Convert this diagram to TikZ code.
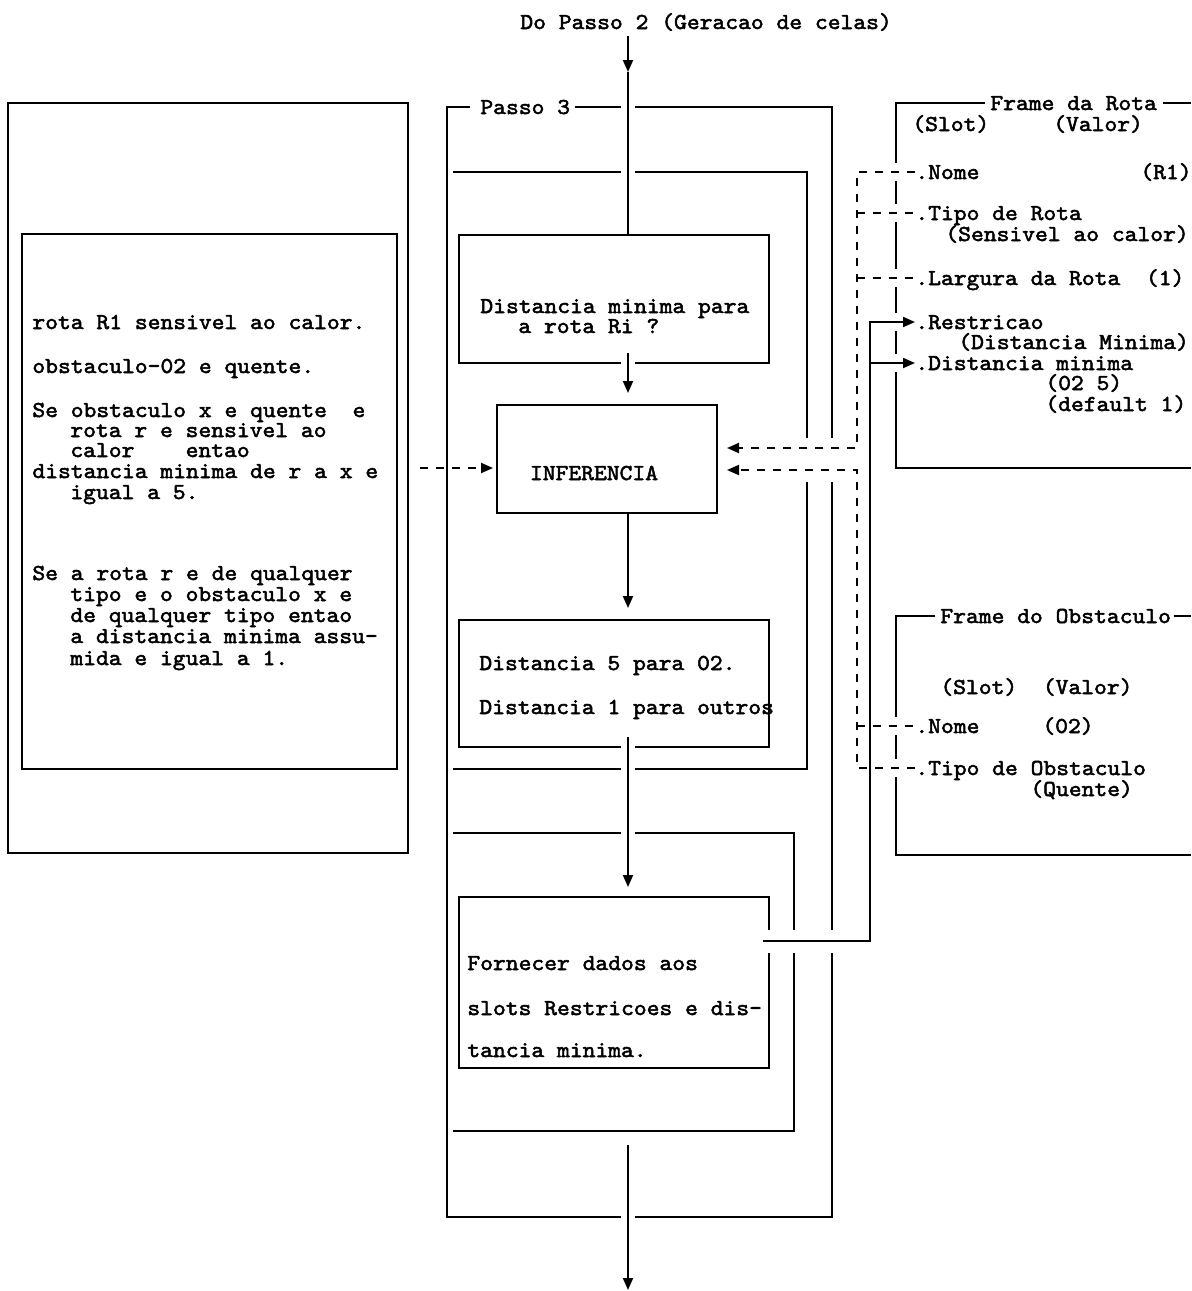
\documentclass[tikz,border=0pt]{standalone}
\usepackage{fontspec}
\newfontfamily\printfont{lmmono10-regular.otf}[FakeBold=2.2,FakeStretch=1.07]
\usetikzlibrary{arrows.meta,calc}
\newcommand\monofont{\fontsize{11.4}{13}\selectfont\printfont}
\newcommand\cutV[3]{\fill[white] (#1-4,#2) rectangle (#1+4,#3);}
\newcommand\cutH[3]{\fill[white] (#2,#1-4) rectangle (#3,#1+4);}
\begin{document}
\begin{tikzpicture}[x=0.5pt,y=-0.5pt,
 ln/.style={line width=1pt, draw=black},
 dsh/.style={line width=1pt, draw=black, dash pattern=on 4pt off 4pt},
 tip/.style={-{Triangle[length=6pt,width=5pt]}},
 boxn/.style={draw=black, line width=1pt, inner sep=0pt, outer sep=0pt, anchor=north west},
 txt/.style={font=\monofont, inner sep=0pt, anchor=base west},
]
\useasboundingbox (0,0) rectangle (1191,1291);
% ---------- boxes ----------
\node[boxn, minimum width=200pt, minimum height=375pt] (lOut) at (8,103) {};
\node[boxn, minimum width=187.5pt, minimum height=267.5pt] (lIn) at (22,234) {};
\node[boxn, minimum width=155pt, minimum height=64pt] (boxA) at (459,235) {};
\node[boxn, minimum width=110pt, minimum height=54pt] (inf) at (497,405) {};
\node[boxn, minimum width=155pt, minimum height=63.5pt] (boxB) at (459,620) {};
\node[boxn, minimum width=155pt, minimum height=85.5pt] (forn) at (459,897) {};
% Passo 3 frame and inner brackets
\draw[ln] (470,107) -- (447,107) -- (447,1217) -- (832,1217) -- (832,107) -- (575,107);
\draw[ln] (453,172) -- (807,172) -- (807,769) -- (453,769);
\draw[ln] (453,833) -- (794,833) -- (794,1131) -- (453,1131);
% right frames
\draw[ln] (985,103) -- (896,103) -- (896,468) -- (1191,468);
\draw[ln] (1163,103) -- (1191,103);
\draw[ln] (935,616) -- (896,616) -- (896,855) -- (1191,855);
\draw[ln] (1174,616) -- (1191,616);
% ---------- gaps where connectors cross ----------
\cutH{107}{621}{635}
\cutH{172}{621}{635}
\cutH{363}{621}{635}
\cutH{747}{621}{635}
\cutH{769}{621}{635}
\cutH{833}{621}{635}
\cutH{1217}{621}{635}
\cutV{807}{438}{482}
\cutV{832}{438}{482}
\cutV{769}{930}{953}
\cutV{794}{930}{953}
\cutV{832}{930}{953}
\cutV{896}{163}{181}
\cutV{896}{204}{222}
\cutV{896}{269}{287}
\cutV{896}{313}{331}
\cutV{896}{354}{372}
\cutV{896}{717}{735}
\cutV{896}{759}{777}
\cutV{870}{717}{735}
\cutV{870}{759}{777}
% ---------- texts ----------
\node[txt] (title) at (520,29) {Do Passo 2 (Geracao de celas)};
\node[txt] (passo) at (480,114) {Passo 3};
% left box
\node[txt] (lt1) at (32,329) {rota R1 sensivel ao calor.};
\node[txt] (lt2) at (32,373) {obstaculo-02 e quente.};
\node[txt] (lt3) at (32,417) {Se obstaculo x e quente\ \ e};
\node[txt] (lt4) at (70,437) {rota r e sensivel ao};
\node[txt] (lt5) at (70,457) {calor\ \ \ \ entao};
\node[txt] (lt6) at (32,478) {distancia minima de r a x e};
\node[txt] (lt7) at (70,499) {igual a 5.};
\node[txt] (lt8) at (32,580) {Se a rota r e de qualquer};
\node[txt] (lt9) at (70,601) {tipo e o obstaculo x e};
\node[txt] (lt10) at (70,622) {de qualquer tipo entao};
\node[txt] (lt11) at (70,643) {a distancia minima assu-};
\node[txt] (lt12) at (70,665) {mida e igual a 1.};
% centre
\node[txt] (a1) at (480,313) {Distancia minima para};
\node[txt] (a2) at (518,333) {a rota Ri ?};
\node[txt, anchor=base] (infT) at (594,480) {INFERENCIA};
\node[txt] (b1) at (479,670) {Distancia 5 para 02.};
\node[txt] (b2) at (479,714) {Distancia 1 para outros};
\node[txt] (f1) at (467,970) {Fornecer dados aos};
\node[txt] (f2) at (467,1015) {slots Restricoes e dis-};
\node[txt] (f3) at (467,1057) {tancia minima.};
% frame da rota
\node[txt] (fr) at (990,110) {Frame da Rota};
\node[txt] (rSlot) at (912,131) {(Slot)\ \ \ \ \ (Valor)};
\node[txt] (rNome) at (915,179) {.Nome};
\node[txt] (rR1) at (1140,179) {(R1)};
\node[txt] (rTipo) at (915,220) {.Tipo de Rota};
\node[txt] (rSens) at (945,241) {(Sensivel ao calor)};
\node[txt] (rLarg) at (915,285) {.Largura da Rota\ \ (1)};
\node[txt] (rRestr) at (915,329) {.Restricao};
\node[txt] (rDM) at (958,349) {(Distancia Minima)};
\node[txt] (rDist) at (915,370) {.Distancia minima};
\node[txt] (r025) at (1045,390) {(02 5)};
\node[txt] (rDef) at (1045,411) {(default 1)};
% frame do obstaculo
\node[txt] (fo) at (940,623) {Frame do Obstaculo};
\node[txt] (oSlot) at (940,694) {(Slot)\ \ (Valor)};
\node[txt] (oNome) at (915,733) {.Nome};
\node[txt] (o02) at (1042,733) {(02)};
\node[txt] (oTipo) at (915,775) {.Tipo de Obstaculo};
\node[txt] (oQ) at (1030,796) {(Quente)};
% ---------- connectors ----------
\coordinate (t0) at (628,36);
\coordinate (t1) at (628,72);
\draw[ln,tip] (t0) -- (t1);
\draw[ln] (t1) -- (boxA.north -| t1);
\draw[ln,tip,shorten >=6pt] ($(boxA.south -| t1)+(0,-10)$) -- (inf.north -| t1);
\draw[ln,tip,shorten >=6pt] (inf.south -| t1) -- (boxB.north -| t1);
\draw[ln,tip,shorten >=5pt] ($(boxB.south -| t1)+(0,-10)$) -- (forn.north -| t1);
\coordinate (b0) at (628,1145);
\coordinate (b1) at (628,1290);
\draw[ln,tip] (b0) -- (b1);
% dashed from rule base
\coordinate (la) at (0,468);
\draw[dsh,tip,shorten <=6pt,shorten >=2pt] (lOut.east |- la) -- (inf.west |- la);
% dashed from frame da rota
\coordinate (j1) at (857,172);
\coordinate (j2) at (857,448);
\coordinate (j3) at (857,213);
\coordinate (j4) at (857,278);
\draw[dsh,tip,shorten >=5pt] (j1 -| rNome.west) -- (j1) -- (j2) -- (inf.east |- j2);
\draw[dsh] (j3) -- (j3 -| rTipo.west);
\draw[dsh] (j4) -- (j4 -| rLarg.west);
% dashed from frame do obstaculo
\coordinate (k1) at (857,768);
\coordinate (k2) at (857,470);
\coordinate (k3) at (857,726);
\draw[dsh,tip,shorten >=5pt] (k1 -| oTipo.west) -- (k1) -- (k2) -- (inf.east |- k2);
\draw[dsh] (k3) -- (k3 -| oNome.west);
% solid from Fornecer to slots
\coordinate (m1) at (870,941);
\coordinate (m2) at (870,322);
\coordinate (m3) at (870,363);
\draw[ln,tip] ($(forn.east |- m1)+(-6,0)$) -- (m1) -- (m2) -- (m2 -| rRestr.west);
\draw[ln,tip] (m3) -- (m3 -| rDist.west);
\end{tikzpicture}
\end{document}
